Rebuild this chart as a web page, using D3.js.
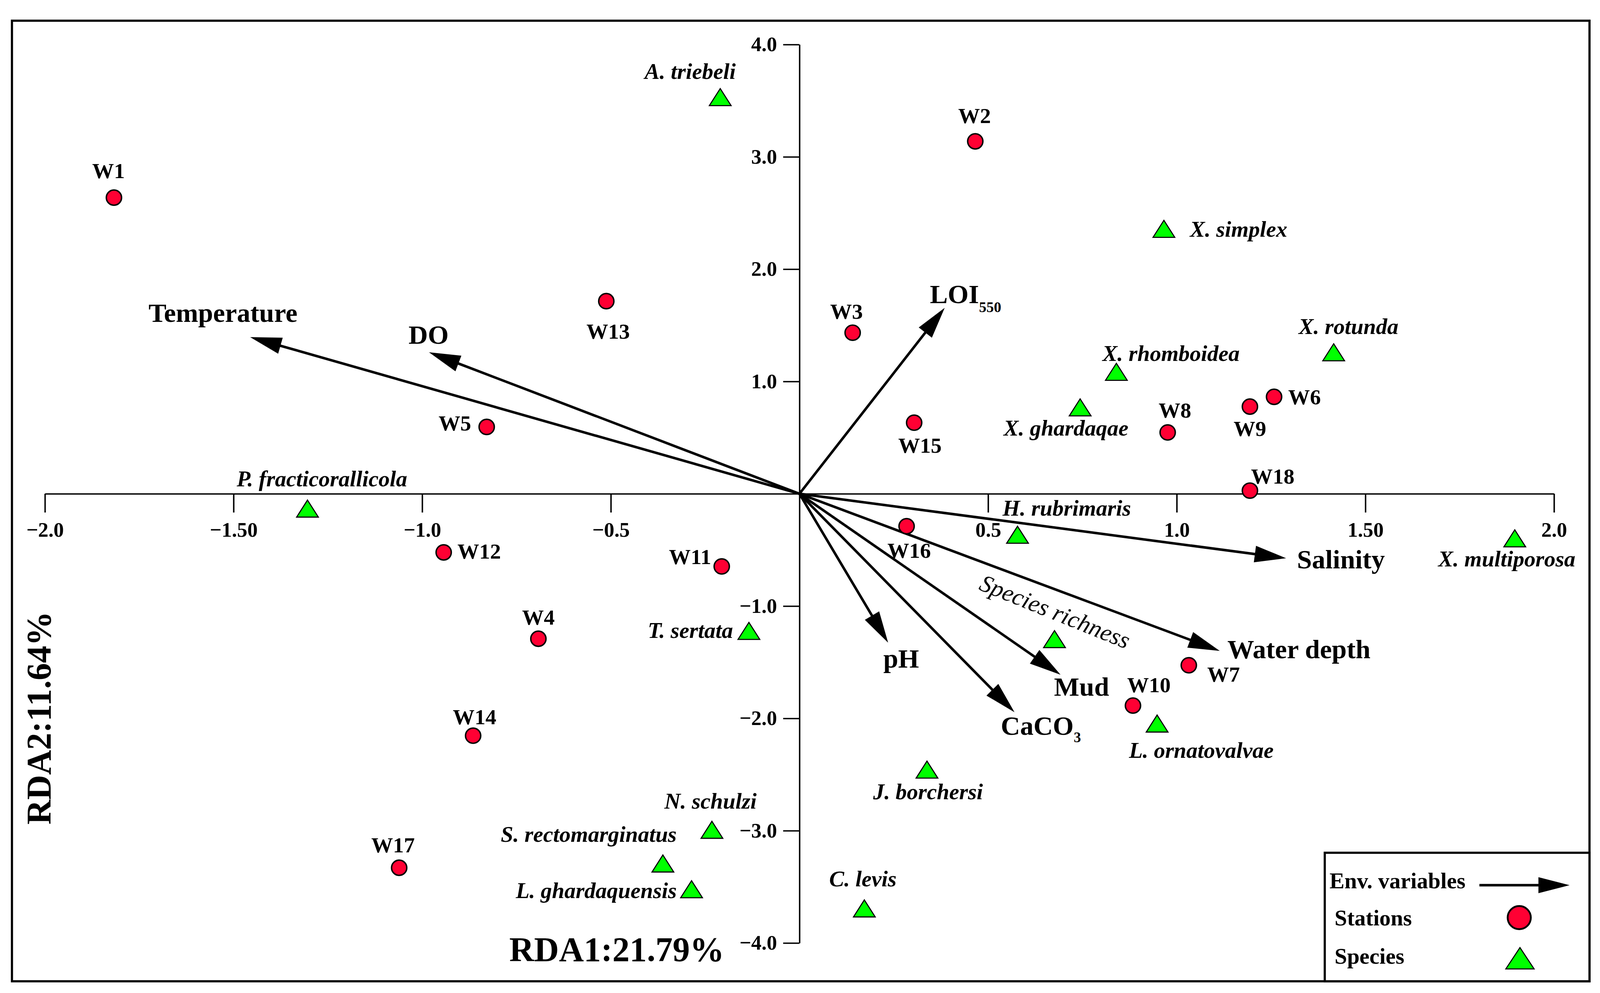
<!DOCTYPE html>
<html>
<head>
<meta charset="utf-8">
<script src="https://cdn.jsdelivr.net/npm/d3@7"></script>
<style>
  html, body { margin: 0; padding: 0; background: #fff; overflow: hidden; }
  svg { display: block; }
  text { font-family: "Liberation Serif", "Times New Roman", serif; }
</style>
</head>
<body>
<script>
// stations (RDA1, RDA2 scores)
const stationNames = ["W1", "W2", "W3", "W4", "W5", "W6", "W7", "W8", "W9", "W10",
                      "W11", "W12", "W13", "W14", "W15", "W16", "W17", "W18"];
const stationRDA1 = [-1.817, 0.466, 0.141, -0.692, -0.829, 1.258, 1.032, 0.976, 1.194, 0.884,
                     -0.206, -0.943, -0.512, -0.865, 0.304, 0.284, -1.061, 1.194];
const stationRDA2 = [2.637, 3.138, 1.434, -1.291, 0.595, 0.863, -1.527, 0.546, 0.776, -1.886,
                     -0.647, -0.522, 1.715, -2.154, 0.633, -0.289, -3.330, 0.028];

// species
const speciesNames = ["A. triebeli", "X. simplex", "X. rotunda", "X. rhomboidea", "X. ghardaqae",
                      "H. rubrimaris", "X. multiporosa", "P. fracticorallicola", "T. sertata",
                      "Species richness", "L. ornatovalvae", "J. borchersi", "C. levis",
                      "N. schulzi", "S. rectomarginatus", "L. ghardaquensis"];
const speciesRDA1 = [-0.210, 0.966, 1.416, 0.840, 0.744, 0.578, 1.896, -1.304, -0.134,
                     0.676, 0.948, 0.338, 0.172, -0.232, -0.362, -0.286];
const speciesRDA2 = [3.532, 2.359, 1.260, 1.086, 0.769, -0.365, -0.397, -0.132, -1.221,
                     -1.294, -2.046, -2.456, -3.692, -2.992, -3.292, -3.521];

// environmental variables (arrow tips)
const envNames = ["Temperature", "DO", "LOI", "Salinity", "Water depth", "Mud", "CaCO", "pH"];
const envSubs = ["", "", "550", "", "", "", "3", ""];
const envRDA1 = [-1.456, -0.982, 0.385, 1.290, 1.114, 0.692, 0.570, 0.235];
const envRDA2 = [1.395, 1.260, 1.656, -0.574, -1.399, -1.611, -1.945, -1.326];

// ticks
const xTickValues = [-2, -1.5, -1, -0.5, 0.5, 1, 1.5, 2];
const xTickLabels = ["\u22122.0", "\u22121.50", "\u22121.0", "\u22120.5", "0.5", "1.0", "1.50", "2.0"];
const yTickValues = [4, 3, 2, 1, -1, -2, -3, -4];
const yTickLabels = ["4.0", "3.0", "2.0", "1.0", "\u22121.0", "\u22122.0", "\u22123.0", "\u22124.0"];

// label placement: [dx, dy(baseline), anchor]
const stationLabelPos = {
  W1: [-15, -54, "middle"], W2: [-2, -51, "middle"], W3: [-17, -38, "middle"],
  W4: [0, -39, "middle"], W5: [-43, 10, "end"], W6: [39, 21, "start"],
  W7: [51, 45, "start"], W8: [20, -41, "middle"], W9: [0, 81, "middle"],
  W10: [-16, -37, "start"], W11: [-29, -6, "end"], W12: [38, 17, "start"],
  W13: [5, 104, "middle"], W14: [4, -32, "middle"], W15: [16, 83, "middle"],
  W16: [7, 87, "middle"], W17: [-17, -42, "middle"], W18: [3, -19, "start"]
};
const speciesLabelPos = {
  "A. triebeli": [-83, -50, "middle"], "X. simplex": [72, 22, "start"],
  "X. rotunda": [41, -50, "middle"], "X. rhomboidea": [151, -30, "middle"],
  "X. ghardaqae": [-39, 78, "middle"], "H. rubrimaris": [136, -53, "middle"],
  "X. multiporosa": [-22, 77, "middle"], "P. fracticorallicola": [40, -61, "middle"],
  "T. sertata": [-44, 19, "end"], "Species richness": [-7, -55, "middle"],
  "L. ornatovalvae": [122, 95, "middle"], "J. borchersi": [3, 82, "middle"],
  "C. levis": [-4, -61, "middle"], "N. schulzi": [-4, -59, "middle"],
  "S. rectomarginatus": [38, -60, "end"], "L. ghardaquensis": [-41, 24, "end"]
};
const envLabelPos = {
  "Temperature": [-75, -42, "middle"], "DO": [-1, -23, "middle"], "LOI": [-41, -13, "start"],
  "Salinity": [30, 28, "start"], "Water depth": [21, 20, "start"], "Mud": [-18, 58, "start"],
  "CaCO": [-38, 62, "start"], "pH": [36, 69, "middle"]
};

// layout is designed on a 4418 x 2542 canvas and stretched to the window
const W = window.innerWidth, H = window.innerHeight;
const sx = W / 4418, sy = H / 2542, f = Math.min(sx, sy);
const X = v => v * sx, Y = v => v * sy, S = v => v * f;

const svg = d3.select("body").append("svg").attr("width", W).attr("height", H);
svg.append("rect").attr("width", W).attr("height", H).attr("fill", "#fff");

const x = d3.scaleLinear().domain([-2, 2]).range([X(124), X(4291)]);
const y = d3.scaleLinear().domain([-4, 4]).range([Y(2414), Y(114)]);

// frame
svg.append("rect")
  .attr("x", X(33)).attr("y", Y(53)).attr("width", X(4356)).attr("height", Y(2459))
  .attr("fill", "none").attr("stroke", "#000").attr("stroke-width", S(6));

// axes
const xAxis = d3.axisBottom(x)
  .tickValues(xTickValues)
  .tickFormat((d, i) => xTickLabels[i])
  .tickSize(Y(48)).tickSizeOuter(0).tickPadding(Y(24));
const yAxis = d3.axisLeft(y)
  .tickValues(yTickValues)
  .tickFormat((d, i) => yTickLabels[i])
  .tickSize(X(45)).tickSizeOuter(0).tickPadding(X(17));

function styleAxis(g) {
  g.attr("font-family", "Liberation Serif").attr("font-size", S(57)).attr("font-weight", "bold");
  g.select(".domain").attr("stroke", "#000").attr("stroke-width", S(4));
  g.selectAll(".tick line").attr("stroke", "#000").attr("stroke-width", S(4));
  g.selectAll(".tick text").attr("fill", "#000");
}
svg.append("g").attr("transform", "translate(0," + y(0) + ")").call(xAxis).call(styleAxis);
svg.append("g").attr("transform", "translate(" + x(0) + ",0)").call(yAxis).call(styleAxis);

// axis titles
svg.append("text")
  .attr("x", X(1703)).attr("y", Y(2460))
  .attr("text-anchor", "middle").attr("font-size", S(95)).attr("font-weight", "bold")
  .text("RDA1:21.79%");
svg.append("text")
  .attr("transform", "translate(" + X(139) + "," + Y(1838) + ") rotate(-90)")
  .attr("text-anchor", "middle").attr("font-size", S(95)).attr("font-weight", "bold")
  .text("RDA2:11.64%");

// arrows
function arrow(g, x0, y0, x1, y1, len, half, sw) {
  const dx = x1 - x0, dy = y1 - y0, d = Math.hypot(dx, dy);
  const ux = dx / d, uy = dy / d;
  const bx = x1 - ux * len, by = y1 - uy * len;
  g.append("line")
    .attr("x1", x0).attr("y1", y0).attr("x2", bx + ux * 5 * f).attr("y2", by + uy * 5 * f)
    .attr("stroke", "#000").attr("stroke-width", sw);
  g.append("path")
    .attr("d", "M" + x1 + "," + y1 +
      "L" + (bx - uy * half) + "," + (by + ux * half) +
      "L" + (bx + uy * half) + "," + (by - ux * half) + "Z")
    .attr("fill", "#000");
}

const envG = svg.append("g");
envNames.forEach((n, i) => {
  const tx = x(envRDA1[i]), ty = y(envRDA2[i]);
  arrow(envG, x(0), y(0), tx, ty, S(87), S(23), S(7));
  const p = envLabelPos[n];
  const t = envG.append("text")
    .attr("x", tx + S(p[0])).attr("y", ty + S(p[1]))
    .attr("text-anchor", p[2]).attr("font-size", S(74)).attr("font-weight", "bold")
    .text(n);
  if (envSubs[i]) {
    t.append("tspan")
      .attr("font-size", S(envSubs[i].length > 1 ? 41 : 40))
      .attr("dy", S(envSubs[i].length > 1 ? 25 : 21))
      .text(envSubs[i]);
  }
});

// stations
const stG = svg.append("g");
stationNames.forEach((n, i) => {
  const cx = x(stationRDA1[i]), cy = y(stationRDA2[i]);
  stG.append("circle")
    .attr("cx", cx).attr("cy", cy).attr("r", S(21))
    .attr("fill", "#ff0033").attr("stroke", "#000").attr("stroke-width", S(4));
  const p = stationLabelPos[n];
  stG.append("text")
    .attr("x", cx + S(p[0])).attr("y", cy + S(p[1]))
    .attr("text-anchor", p[2]).attr("font-size", S(60)).attr("font-weight", "bold")
    .text(n);
});

// species
const triangle = (cx, cy, w, h) =>
  "M" + cx + "," + (cy - h / 2) + "L" + (cx + w / 2) + "," + (cy + h / 2) +
  "L" + (cx - w / 2) + "," + (cy + h / 2) + "Z";

const spG = svg.append("g");
speciesNames.forEach((n, i) => {
  const cx = x(speciesRDA1[i]), cy = y(speciesRDA2[i]);
  spG.append("path")
    .attr("d", triangle(cx, cy, S(60), S(47)))
    .attr("fill", "#00ff00").attr("stroke", "#000").attr("stroke-width", S(3));
  const p = speciesLabelPos[n];
  const t = spG.append("text")
    .attr("text-anchor", p[2]).attr("font-style", "italic")
    .text(n);
  if (n === "Species richness") {
    t.attr("font-size", S(67))
      .attr("transform", "translate(" + (cx + S(p[0])) + "," + (cy + S(p[1])) + ") rotate(22)");
  } else {
    t.attr("font-size", S(62)).attr("font-weight", "bold")
      .attr("x", cx + S(p[0])).attr("y", cy + S(p[1]));
  }
});

// legend
const lg = svg.append("g");
lg.append("rect")
  .attr("x", X(3658)).attr("y", Y(2183)).attr("width", X(731)).attr("height", Y(329))
  .attr("fill", "#fff").attr("stroke", "#000").attr("stroke-width", S(6));
lg.append("text").attr("x", X(3671)).attr("y", Y(2274))
  .attr("font-size", S(62)).attr("font-weight", "bold").text("Env. variables");
arrow(lg, X(4085), Y(2266), X(4334), Y(2266), S(86), S(22), S(7));
lg.append("text").attr("x", X(3685)).attr("y", Y(2369))
  .attr("font-size", S(62)).attr("font-weight", "bold").text("Stations");
lg.append("circle").attr("cx", X(4195)).attr("cy", Y(2349)).attr("r", S(32))
  .attr("fill", "#ff0033").attr("stroke", "#000").attr("stroke-width", S(5));
lg.append("text").attr("x", X(3685)).attr("y", Y(2467))
  .attr("font-size", S(62)).attr("font-weight", "bold").text("Species");
lg.append("path").attr("d", triangle(X(4197), Y(2453), S(78), S(59)))
  .attr("fill", "#00ff00").attr("stroke", "#000").attr("stroke-width", S(3));
</script>
</body>
</html>
